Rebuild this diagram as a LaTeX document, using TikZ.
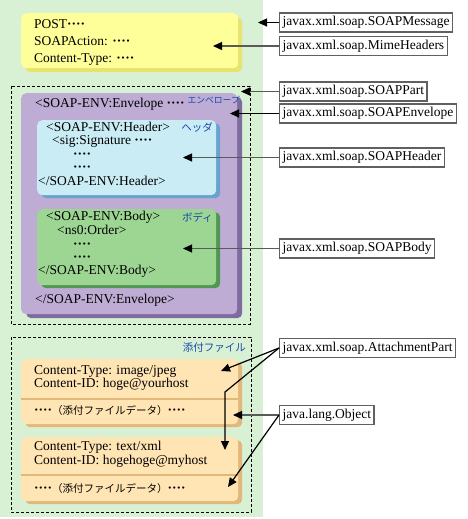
\documentclass[tikz,border=0pt]{standalone}
\usepackage{fontspec}
\setmainfont{Liberation Serif}
\newfontfamily\jpfont{Noto Sans CJK JP}
\usepackage{xcolor}
\definecolor{bggreen}{RGB}{216,240,212}
\definecolor{httpyellow}{RGB}{255,255,153}
\definecolor{httpshade}{RGB}{232,226,110}
\definecolor{envpurple}{RGB}{190,172,212}
\definecolor{envshade}{RGB}{126,108,158}
\definecolor{headblue}{RGB}{202,236,244}
\definecolor{headshade}{RGB}{104,162,206}
\definecolor{bodygreen}{RGB}{156,214,146}
\definecolor{bodyshade}{RGB}{82,150,84}
\definecolor{attorange}{RGB}{255,228,180}
\definecolor{attshade}{RGB}{226,184,122}
\definecolor{tagblue}{RGB}{22,72,170}
\definecolor{clsgray}{RGB}{96,96,96}
\definecolor{linegray}{RGB}{90,90,90}
\usetikzlibrary{arrows.meta, shadows}

\newcommand{\fourdots}{\textbf{····}}
\newcommand{\jpdata}{{\jpfont\fontsize{10.5}{12}\selectfont （添付ファイルデータ）}}

\begin{document}
\begin{tikzpicture}[x=1pt, y=-1pt,
    txt/.style={anchor=mid west, inner sep=0pt, font=\fontsize{13.5}{16}\selectfont},
    tag/.style={anchor=mid east, inner sep=0pt, text=tagblue,
      font=\jpfont\fontsize{10.5}{12}\selectfont},
    cls/.style={draw=clsgray, line width=1.3pt, fill=white, anchor=west,
      inner xsep=3pt, inner ysep=0pt, minimum height=19pt,
      font=\fontsize{13.5}{16}\selectfont},
    panel/.style={anchor=north west, rounded corners=5pt, inner sep=0pt},
    part/.style={draw, line width=0.9pt, dash pattern=on 3pt off 2pt},
    ptr/.style={-{Triangle[length=9pt,width=8pt]}, line width=1.2pt},
    ptrg/.style={-{Triangle[length=9pt,width=8pt,color=black]}, line width=1.2pt, draw=linegray},
  ]
  \useasboundingbox (0,0) rectangle (468,519);
  \fill[bggreen] (0,0) rectangle (263,517);

  % HTTP header
  \node[panel, fill=httpyellow, minimum width=217pt, minimum height=55pt,
    drop shadow={shadow xshift=4pt, shadow yshift=-4pt, fill=httpshade, opacity=1}]
    (http) at (21,13) {};
  \node[txt] (post) at (34,26) {POST\fourdots};
  \node[txt] (action) at (34,43) {SOAPAction: \fourdots};
  \node[txt] (ctype) at (34,60) {Content-Type: \fourdots};

  % SOAP part
  \draw[part] (11,86) rectangle (250,324);
  \node[panel, fill=envpurple, minimum width=216pt, minimum height=221pt,
    drop shadow={shadow xshift=5pt, shadow yshift=-4pt, fill=envshade, opacity=1}]
    (env) at (21,93) {};
  \node[txt] (envopen) at (35,105) {<SOAP-ENV:Envelope \fourdots};
  \node[tag, font=\jpfont\fontsize{8.8}{10}\selectfont] (envtag) at (240,101) {エンベロープ};

  \node[panel, fill=headblue, minimum width=179pt, minimum height=75pt,
    drop shadow={shadow xshift=4pt, shadow yshift=-3pt, fill=headshade, opacity=1}]
    (head) at (37,120) {};
  \node[txt] (headopen) at (46,129) {<SOAP-ENV:Header>};
  \node[tag] (headtag) at (213,129) {ヘッダ};
  \node[txt] (sig) at (52,142) {<sig:Signature \fourdots};
  \node[txt] (headdots1) at (73,156) {\fourdots};
  \node[txt] (headdots2) at (73,169) {\fourdots};
  \node[txt] (headclose) at (38,183) {</SOAP-ENV:Header>};

  \node[panel, fill=bodygreen, minimum width=179pt, minimum height=76pt,
    drop shadow={shadow xshift=4pt, shadow yshift=-3pt, fill=bodyshade, opacity=1}]
    (body) at (37,209) {};
  \node[txt] (bodyopen) at (46,218) {<SOAP-ENV:Body>};
  \node[tag] (bodytag) at (213,219) {ボディ};
  \node[txt] (order) at (57,232) {<ns0:Order>};
  \node[txt] (bodydots1) at (73,246) {\fourdots};
  \node[txt] (bodydots2) at (73,259) {\fourdots};
  \node[txt] (bodyclose) at (38,272) {</SOAP-ENV:Body>};
  \node[txt] (envclose) at (35,301) {</SOAP-ENV:Envelope>};

  % attachments
  \draw[part] (11,337) rectangle (251,512);
  \node[tag] (atttag) at (246,349) {添付ファイル};
  \node[panel, fill=attorange, minimum width=217pt, minimum height=65pt,
    drop shadow={shadow xshift=4pt, shadow yshift=-3pt, fill=attshade, opacity=1}]
    (att1) at (21,359) {};
  \draw[attshade, line width=1.8pt] (21,399) -- (238,399);
  \node[txt] (att1type) at (34,372) {Content-Type: image/jpeg};
  \node[txt] (att1id) at (34,385) {Content-ID: hoge@yourhost};
  \node[txt] (att1data) at (34,412) {\fourdots\jpdata\fourdots};

  \node[panel, fill=attorange, minimum width=217pt, minimum height=64pt,
    drop shadow={shadow xshift=4pt, shadow yshift=-3pt, fill=attshade, opacity=1}]
    (att2) at (21,437) {};
  \draw[attshade, line width=1.8pt] (21,475) -- (238,475);
  \node[txt] (att2type) at (34,448) {Content-Type: text/xml};
  \node[txt] (att2id) at (34,462) {Content-ID: hogehoge@myhost};
  \node[txt] (att2data) at (34,490) {\fourdots\jpdata\fourdots};

  % classes
  \node[cls] (msg) at (279,22.5) {javax.xml.soap.SOAPMessage};
  \node[cls] (mime) at (279,46) {javax.xml.soap.MimeHeaders};
  \node[cls] (spart) at (279,91.5) {javax.xml.soap.SOAPPart};
  \node[cls] (senv) at (279,113.5) {javax.xml.soap.SOAPEnvelope};
  \node[cls] (shead) at (279,157.5) {javax.xml.soap.SOAPHeader};
  \node[cls] (sbody) at (279,248.5) {javax.xml.soap.SOAPBody};
  \node[cls] (apart) at (279,348) {javax.xml.soap.AttachmentPart};
  \node[cls] (jobj) at (279,415) {java.lang.Object};

  \coordinate (msgtip) at (258,22.5);
  \coordinate (mimetip) at (213,46);
  \coordinate (parttip) at (241,91.5);
  \coordinate (envtip) at (230,113.5);
  \coordinate (headtip) at (183,157.5);
  \coordinate (bodytip) at (183,248.5);
  \coordinate (att1tip) at (221,371);
  \coordinate (apbend) at (225,392);
  \coordinate (att2tip) at (225,450);
  \coordinate (objtip) at (233,415);
  \coordinate (data2tip) at (228,487);

  \draw[ptr] (msg.west) -- (msgtip);
  \draw[ptrg] (mime.west) -- (mimetip);
  \draw[ptrg] (spart.west) -- (parttip);
  \draw[ptr] (senv.west) -- (envtip);
  \draw[ptrg] (shead.west) -- (headtip);
  \draw[ptrg] (sbody.west) -- (bodytip);
  \draw[ptr] (apart.west) -- (att1tip);
  \draw[ptr] (apart.west) -- (apbend) -- (att2tip);
  \draw[ptrg] (jobj.west) -- (objtip);
  \draw[ptr] (jobj.west) -- (data2tip);
\end{tikzpicture}
\end{document}
